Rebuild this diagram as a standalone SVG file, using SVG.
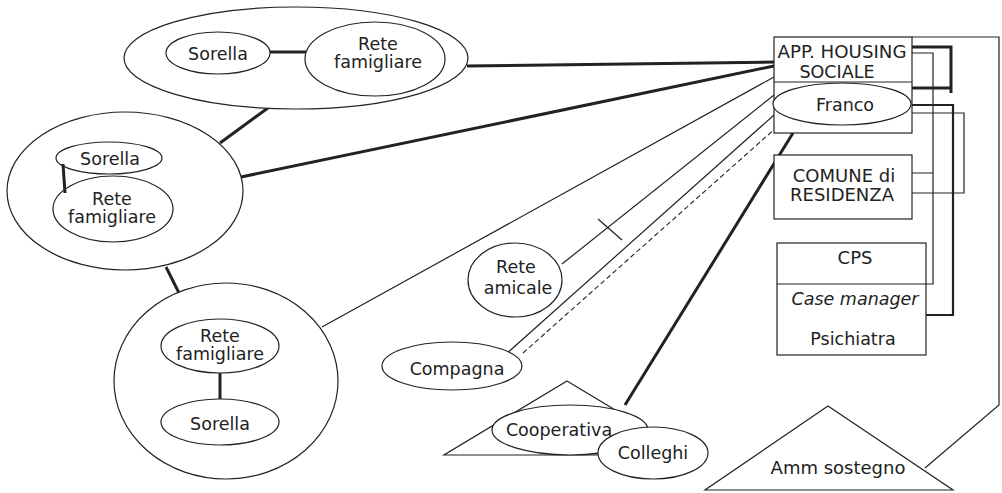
<svg xmlns="http://www.w3.org/2000/svg" width="1002" height="493" viewBox="0 0 1002 493">
<style>
.s{fill:#fff;stroke:#222;stroke-width:1.2}
.n{fill:none;stroke:#222;stroke-width:1.2}
.k{fill:none;stroke:#222;stroke-width:3}
.m{fill:none;stroke:#222;stroke-width:2.2}
.d{fill:none;stroke:#222;stroke-width:1.1;stroke-dasharray:5,3}
text{font-family:"DejaVu Sans","Liberation Sans",sans-serif;font-size:17.5px;fill:#222;text-anchor:middle}
</style>
<rect width="1002" height="493" fill="#fff"/>
<g id="connectors">
<line class="k" x1="467" y1="66" x2="774" y2="62"/>
<line class="k" x1="241" y1="177" x2="774" y2="66"/>
<line class="n" x1="322" y1="327" x2="774" y2="77"/>
<line class="n" x1="562" y1="264" x2="774" y2="95"/>
<line class="n" x1="598" y1="219" x2="622" y2="240"/>
<line class="n" x1="505" y1="355" x2="774" y2="115"/>
<line class="d" x1="523" y1="353" x2="777" y2="127"/>
<line class="k" x1="625" y1="405" x2="793" y2="133"/>
<line class="k" x1="272" y1="105" x2="220" y2="143"/>
<line class="k" x1="166" y1="267" x2="180" y2="295"/>
<line class="k" x1="271" y1="52" x2="306" y2="52"/>
<line class="k" x1="63" y1="164" x2="65" y2="193"/>
<line class="k" x1="220" y1="373" x2="220" y2="405"/>
<path class="k" d="M912,47 H951 V93 M912,88 H951"/>
<path class="n" d="M912,53 H933 V284 H926 M912,173 H933"/>
<path class="m" d="M912,105 H953 V315 H926"/>
<path class="n" d="M912,113 H964 V193 H912"/>
<path class="n" d="M912,37 H999 V405 L925,468"/>
</g>
<g id="famiglia-1">
<ellipse class="s" cx="296" cy="58" rx="172" ry="51"/>
<g id="sorella-1"><ellipse class="s" cx="218" cy="53" rx="52" ry="21"/><text x="218" y="60">Sorella</text></g>
<g id="rete-famigliare-1"><ellipse class="s" cx="375" cy="59" rx="70" ry="37"/><text x="378" y="50">Rete</text><text x="378" y="68">famigliare</text></g>
<line class="k" x1="270" y1="52" x2="306" y2="52"/>
</g>
<g id="famiglia-2">
<ellipse class="s" cx="125" cy="191" rx="118" ry="79"/>
<g id="sorella-2"><ellipse class="s" cx="109" cy="158" rx="53" ry="16"/><text x="110" y="165">Sorella</text></g>
<g id="rete-famigliare-2"><ellipse class="s" cx="113" cy="209" rx="60" ry="33"/><text x="112" y="205">Rete</text><text x="112" y="223">famigliare</text></g>
<line class="k" x1="63" y1="164" x2="65" y2="193"/>
</g>
<g id="famiglia-3">
<ellipse class="s" cx="226" cy="381" rx="112" ry="98"/>
<g id="rete-famigliare-3"><ellipse class="s" cx="220" cy="346" rx="59" ry="27"/><text x="220" y="342">Rete</text><text x="220" y="360">famigliare</text></g>
<g id="sorella-3"><ellipse class="s" cx="220" cy="422" rx="59" ry="23"/><text x="220" y="430">Sorella</text></g>
<line class="k" x1="220" y1="373" x2="220" y2="399"/>
</g>
<g id="rete-amicale"><ellipse class="s" cx="515" cy="280" rx="47" ry="37"/><text x="516" y="273">Rete</text><text x="518" y="294">amicale</text></g>
<g id="compagna"><ellipse class="s" cx="452" cy="366" rx="70" ry="24"/><text x="457" y="375">Compagna</text></g>
<g id="cooperativa">
<polygon class="s" points="567,381 690,455 444,455"/>
<ellipse class="s" cx="570" cy="430" rx="78" ry="25"/><text x="559" y="436">Cooperativa</text>
</g>
<g id="colleghi"><ellipse class="s" cx="653" cy="453" rx="55" ry="26"/><text x="653" y="459">Colleghi</text></g>
<g id="app-housing">
<rect class="s" x="774" y="37" width="138" height="96"/>
<line class="n" x1="774" y1="82" x2="912" y2="82"/>
<text x="842" y="58" style="font-size:17px" textLength="129" lengthAdjust="spacingAndGlyphs">APP. HOUSING</text>
<text x="837" y="78" style="font-size:17.5px">SOCIALE</text>
<g id="franco"><ellipse class="s" cx="842" cy="104" rx="69" ry="21"/><text x="845" y="111">Franco</text></g>
</g>
<g id="comune"><rect class="s" x="774" y="155" width="138" height="64"/><text x="844" y="182" style="font-size:18px">COMUNE di</text><text x="842" y="201" style="font-size:18px">RESIDENZA</text></g>
<g id="cps">
<rect class="s" x="777" y="243" width="149" height="112"/>
<line class="n" x1="777" y1="284" x2="926" y2="284"/>
<text x="855" y="264" style="font-size:18px">CPS</text>
<text x="855" y="305" style="font-style:italic">Case manager</text>
<text x="853" y="345">Psichiatra</text>
</g>
<g id="amm-sostegno"><polygon class="s" points="828,406 953,490 705,490"/><text x="838" y="474" style="font-size:18px">Amm sostegno</text></g>
</svg>
